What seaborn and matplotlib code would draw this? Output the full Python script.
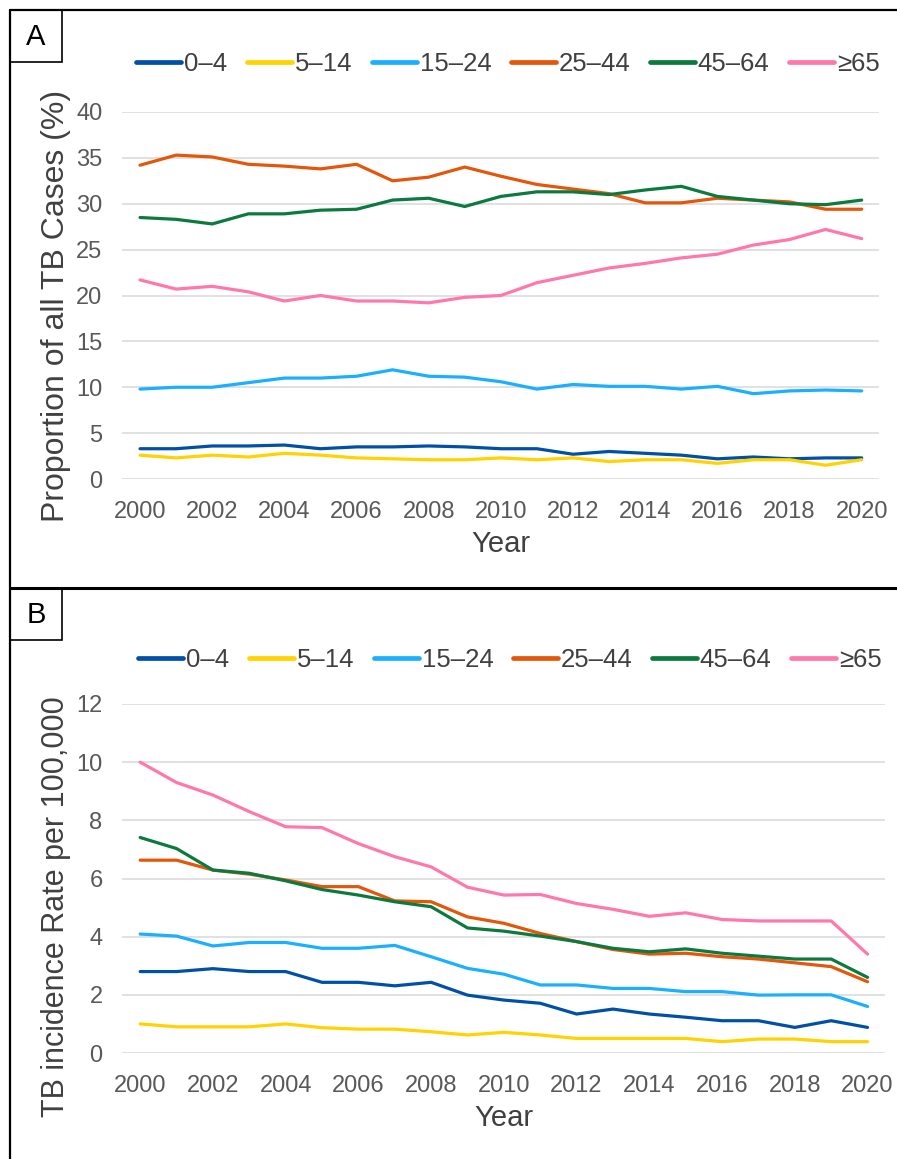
import numpy as np
import pandas as pd
import matplotlib
matplotlib.use("Agg")
import matplotlib.pyplot as plt
from matplotlib.lines import Line2D
from matplotlib.patches import Rectangle
import seaborn as sns

# years and age groups
years = list(range(2000, 2021))
groups = ['0\u20134', '5\u201314', '15\u201324', '25\u201344', '45\u201364', '\u226565']
colors = ['#0050A8', '#FFD200', '#1AAFFF', '#E4560A', '#0B7A3E', '#FF78AC']

# panel A - proportion of all TB cases (%)
prop_0_4 = [3.3, 3.3, 3.6, 3.6, 3.7, 3.3, 3.5, 3.5, 3.6, 3.5, 3.3, 3.3, 2.7, 3.0, 2.8, 2.6, 2.2, 2.4, 2.2, 2.3, 2.3]
prop_5_14 = [2.6, 2.3, 2.6, 2.4, 2.8, 2.6, 2.3, 2.2, 2.1, 2.1, 2.3, 2.1, 2.3, 1.9, 2.1, 2.1, 1.7, 2.1, 2.1, 1.5, 2.1]
prop_15_24 = [9.8, 10.0, 10.0, 10.5, 11.0, 11.0, 11.2, 11.9, 11.2, 11.1, 10.6, 9.8, 10.3, 10.1, 10.1, 9.8, 10.1, 9.3, 9.6, 9.7, 9.6]
prop_25_44 = [34.2, 35.3, 35.1, 34.3, 34.1, 33.8, 34.3, 32.5, 32.9, 34.0, 33.0, 32.1, 31.6, 31.1, 30.1, 30.1, 30.6, 30.4, 30.2, 29.4, 29.4]
prop_45_64 = [28.5, 28.3, 27.8, 28.9, 28.9, 29.3, 29.4, 30.4, 30.6, 29.7, 30.8, 31.3, 31.3, 31.0, 31.5, 31.9, 30.8, 30.4, 30.0, 29.9, 30.4]
prop_65 = [21.7, 20.7, 21.0, 20.4, 19.4, 20.0, 19.4, 19.4, 19.2, 19.8, 20.0, 21.4, 22.2, 23.0, 23.5, 24.1, 24.5, 25.5, 26.1, 27.2, 26.2]

# panel B - TB incidence rate per 100,000
rate_0_4 = [2.8, 2.8, 2.9, 2.8, 2.8, 2.43, 2.43, 2.31, 2.43, 1.99, 1.82, 1.71, 1.34, 1.51, 1.34, 1.23, 1.11, 1.11, 0.88, 1.11, 0.88]
rate_5_14 = [1.0, 0.9, 0.9, 0.9, 1.0, 0.87, 0.82, 0.82, 0.73, 0.62, 0.71, 0.62, 0.5, 0.5, 0.5, 0.5, 0.39, 0.48, 0.48, 0.39, 0.39]
rate_15_24 = [4.09, 4.02, 3.68, 3.8, 3.8, 3.6, 3.6, 3.7, 3.31, 2.91, 2.71, 2.34, 2.34, 2.22, 2.22, 2.11, 2.11, 1.99, 2.0, 2.0, 1.6]
rate_25_44 = [6.63, 6.63, 6.29, 6.15, 5.95, 5.72, 5.72, 5.23, 5.2, 4.68, 4.46, 4.11, 3.83, 3.56, 3.4, 3.43, 3.31, 3.23, 3.1, 2.97, 2.45]
rate_45_64 = [7.41, 7.03, 6.29, 6.18, 5.92, 5.62, 5.43, 5.2, 5.03, 4.3, 4.19, 4.02, 3.83, 3.6, 3.48, 3.58, 3.43, 3.33, 3.23, 3.23, 2.6]
rate_65 = [10.0, 9.3, 8.87, 8.3, 7.78, 7.75, 7.2, 6.75, 6.4, 5.7, 5.43, 5.45, 5.14, 4.94, 4.7, 4.82, 4.59, 4.54, 4.54, 4.54, 3.4]

W, H = 897, 1159
FONT = ['Liberation Sans', 'DejaVu Sans']
TICK_C = '#595959'
LAB_C = '#404040'


def long_form(series):
    frames = []
    for g, vals in zip(groups, series):
        frames.append(pd.DataFrame({'Year': years, 'value': vals, 'group': g}))
    return pd.concat(frames, ignore_index=True)


def fx(px):
    return px / W


def fy(py):
    return 1 - py / H


def draw_panel(ax, df, ymax, ystep, legend_x, legend_y):
    sns.lineplot(data=df, x='Year', y='value', hue='group', hue_order=groups,
                 palette=colors, linewidth=2.3, ax=ax, legend=False)
    ax.set_xlim(1999.5, 2020.48)
    ax.set_ylim(0, ymax)
    ax.set_xticks(range(2000, 2021, 2))
    ax.set_yticks(np.arange(0, ymax + 0.01, ystep))
    ax.set_yticklabels([f'{int(v)}' for v in np.arange(0, ymax + 0.01, ystep)])
    ax.grid(axis='y', color='#D9D9D9', linewidth=1.1)
    ax.grid(axis='x', visible=False)
    ax.set_axisbelow(True)
    for s in ax.spines.values():
        s.set_visible(False)
    ax.tick_params(length=0, labelsize=17, labelcolor=TICK_C, pad=14)
    ax.tick_params(axis='x', pad=16)
    for lab in ax.get_xticklabels() + ax.get_yticklabels():
        lab.set_family(FONT)
    ax.set_xlabel('Year', fontsize=21, color=LAB_C, family=FONT, labelpad=5)
    ax.set_ylabel('')
    handles = [Line2D([], [], color=c, linewidth=3.4) for c in colors]
    leg = ax.legend(handles, groups, ncol=6, loc='center', frameon=False,
                    bbox_to_anchor=(fx(legend_x), fy(legend_y)), bbox_transform=ax.figure.transFigure,
                    prop={'family': FONT, 'size': 18.5}, handlelength=1.75,
                    handletextpad=0.12, columnspacing=0.75, borderaxespad=0)
    for t in leg.get_texts():
        t.set_color(LAB_C)


sns.set_theme(style='white')
plt.rcParams['font.family'] = FONT

fig = plt.figure(figsize=(W / 100, H / 100), dpi=100)

axA = fig.add_axes([fx(122), fy(479), fx(879) - fx(122), fy(112) - fy(479)])
draw_panel(axA, long_form([prop_0_4, prop_5_14, prop_15_24, prop_25_44, prop_45_64, prop_65]),
           40, 5, 508, 64)

axB = fig.add_axes([fx(122), fy(1053), fx(885) - fx(122), fy(704) - fy(1053)])
draw_panel(axB, long_form([rate_0_4, rate_5_14, rate_15_24, rate_25_44, rate_45_64, rate_65]),
           12, 2, 510, 660)

# rotated axis titles
fig.text(fx(56), fy(306), 'Proportion of all TB Cases (%)', rotation=90,
         ha='center', va='center', fontsize=23, color=LAB_C, family=FONT)
fig.text(fx(56), fy(907), 'TB incidence Rate per 100,000', rotation=90,
         ha='center', va='center', fontsize=22, color=LAB_C, family=FONT)

# panel frames
bk = 'black'
fig.add_artist(Line2D([fx(10), fx(10)], [fy(10), fy(H + 5)], color=bk, lw=1.6))
fig.add_artist(Line2D([fx(10), fx(W + 5)], [fy(10), fy(10)], color=bk, lw=1.6))
fig.add_artist(Line2D([fx(10), fx(W + 5)], [fy(588), fy(588)], color=bk, lw=2.2))
for top, lab in [(10, 'A'), (588, 'B')]:
    fig.add_artist(Rectangle((fx(10), fy(top + 52)), fx(62) - fx(10), fy(top) - fy(top + 52),
                             fill=False, edgecolor=bk, lw=1.2))
    fig.text(fx(36), fy(top + 27), lab, ha='center', va='center', fontsize=21,
             color='black', family=FONT)

fig.savefig('out.png', dpi=100)
